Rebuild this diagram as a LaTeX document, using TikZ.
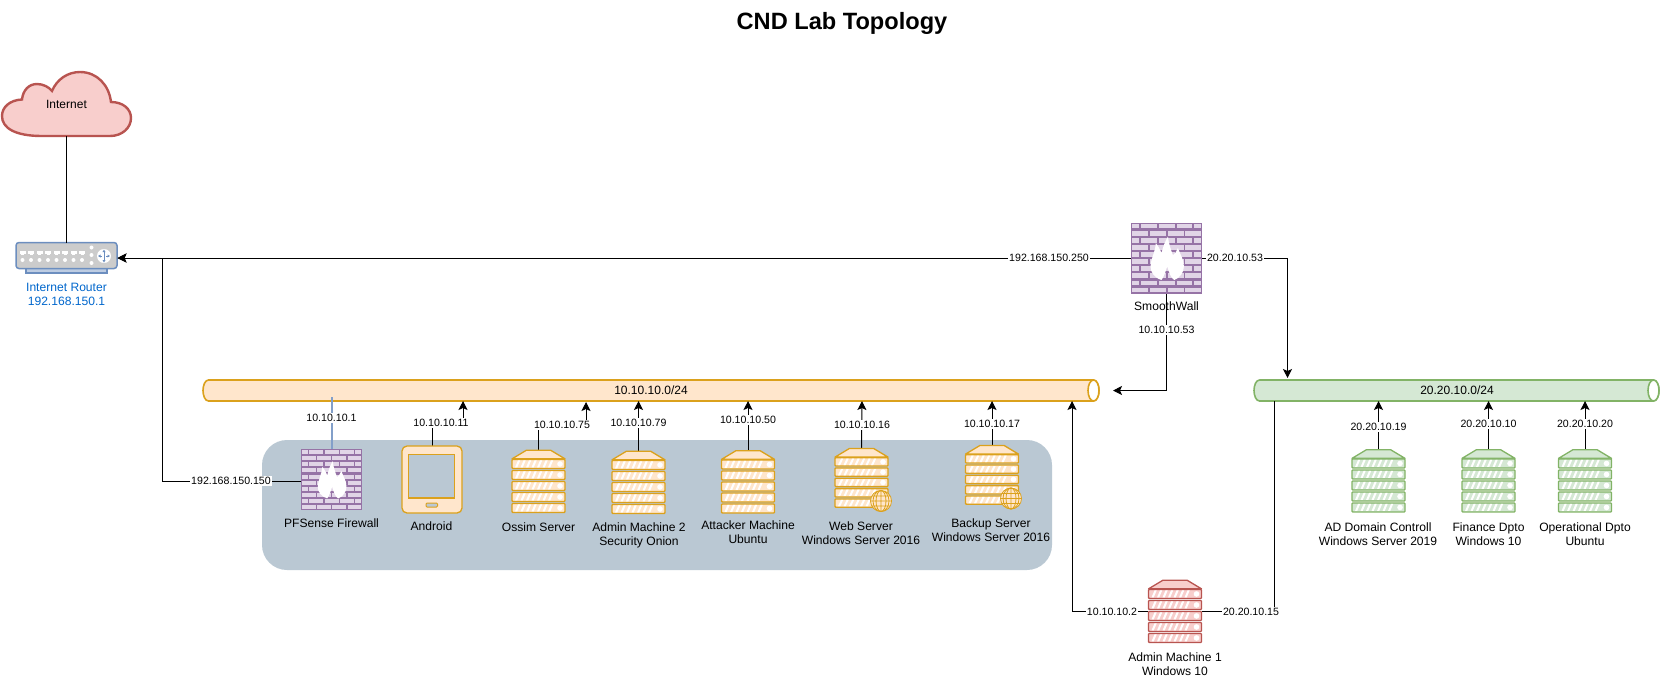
\documentclass[tikz,border=0pt]{standalone}
\usepackage{fontspec}
\setmainfont{Liberation Sans}
\usetikzlibrary{arrows.meta}
\definecolor{orS}{HTML}{DBA11C}\definecolor{orF}{HTML}{FFE6CC}
\definecolor{grS}{HTML}{82B366}\definecolor{grF}{HTML}{D5E8D4}
\definecolor{reS}{HTML}{B85450}\definecolor{reF}{HTML}{F8CECC}
\definecolor{puS}{HTML}{9673A6}\definecolor{puF}{HTML}{E1D5E7}
\definecolor{blS}{HTML}{6C8EBF}\definecolor{panel}{HTML}{BAC8D3}
\definecolor{rtxt}{HTML}{0066CC}
\tikzset{
 devbox/.style={inner sep=0pt,outer sep=0pt,minimum width=#1},
 devlabel/.style={font=\fontsize{12.1}{14.2}\selectfont,align=center,inner sep=0pt},
 edgelabel/.style={font=\fontsize{10.6}{12}\selectfont,fill=white,inner sep=1pt},
 link/.style={draw=black,line width=1pt},
 arrowlink/.style={link,-{Stealth[length=9pt,width=9pt,inset=2pt]}},
}
% colour stroke, colour fill, centre, pitch
\newcommand\drawserver[4]{%
 \begin{scope}[shift={(#3.center)},line width=1.3pt,draw=#1,fill=#2]
  \pgfmathsetmacro\topy{-(5*#4+8.7)/2}
  \pgfmathsetmacro\midy{\topy+8.7}
  \path[draw,fill,line join=round] (-26.5,\midy) -- (-12,\topy) -- (12,\topy) -- (26.5,\midy) -- cycle;
  \foreach \i in {0,...,4}{
   \pgfmathsetmacro\ya{\midy+\i*#4+0.6}
   \pgfmathsetmacro\yb{\ya+#4-2}
   \path[draw,fill,rounded corners=0.8pt] (-26.5,\ya) rectangle (26.5,\yb);
   \foreach \k in {0,...,6}{
     \path[fill=white,draw=none] ({-23.5+\k*5.5},{\yb-1}) -- ({-21.3+\k*5.5},{\yb-1}) -- ({-18.3+\k*5.5},{\ya+1}) -- ({-20.5+\k*5.5},{\ya+1}) -- cycle;
   }
   \path[fill=white,draw=none] (21.5,{(\ya+\yb)/2}) circle (2.8);
  }
 \end{scope}}
% globe: stroke, fill, centre
\newcommand\drawglobe[3]{%
 \begin{scope}[shift={(#3)},line width=0.8pt,draw=#1]
  \path[draw,fill=#2] (0,0) circle (10.5);
  \path[draw] (0,0) ellipse (5 and 10.5) (0,-10.5) -- (0,10.5) (-10.5,0) -- (10.5,0)
   (-9.2,-5) -- (9.2,-5) (-9.2,5) -- (9.2,5);
  \path[draw] (0,0) ellipse (8 and 10.5);
 \end{scope}}
% centre, size
\newcommand\drawfirewall[2]{%
 \begin{scope}[shift={(#1.center)},scale=#2]
  \fill[puS] (-.5,-.5) rectangle (.5,.5);
  \foreach \r in {0,2,4,6,8}{
   \pgfmathsetmacro\ya{-.5+\r*.1+.018}\pgfmathsetmacro\yb{\ya+.066}
   \foreach \xa/\xb in {-.49/-.39,-.365/-.135,-.11/.12,.145/.365,.39/.49}{
    \fill[puF] (\xa,\ya) rectangle (\xb,\yb);}
   \pgfmathsetmacro\yc{\ya+.1}\pgfmathsetmacro\yd{\yc+.066}
   \foreach \xa/\xb in {-.485/-.26,-.235/-.01,.015/.24,.265/.49}{
    \fill[puF] (\xa,\yc) rectangle (\xb,\yd);}
  }
  \fill[white] (-.07,.31)
   .. controls (-.17,.28) and (-.225,.20) .. (-.225,.12)
   .. controls (-.225,.02) and (-.16,-.08) .. (-.15,-.21)
   .. controls (-.12,-.17) and (-.09,-.12) .. (-.07,-.07)
   .. controls (-.05,-.15) and (-.02,-.24) .. (.02,-.30)
   .. controls (.03,-.21) and (.06,-.12) .. (.09,-.04)
   .. controls (.12,-.06) and (.15,-.10) .. (.16,-.14)
   .. controls (.2,-.04) and (.245,.03) .. (.245,.12)
   .. controls (.245,.2) and (.19,.28) .. (.11,.31)
   .. controls (.07,.29) and (.04,.22) .. (.01,.12)
   .. controls (-.01,.18) and (-.03,.25) .. (-.07,.31) -- cycle;
 \end{scope}}
% x0, x1, yc, stroke, fill
\newcommand\drawpipe[5]{%
 \path[draw=#4,fill=#5,line width=1.6pt] ({#1+5.5},{#3-10.5}) -- ({#2-5.5},{#3-10.5})
   .. controls ({#2-2},{#3-10.5}) and ({#2},{#3-5}) .. ({#2},{#3})
   .. controls ({#2},{#3+5}) and ({#2-2},{#3+10.5}) .. ({#2-5.5},{#3+10.5})
   -- ({#1+5.5},{#3+10.5})
   .. controls ({#1+2},{#3+10.5}) and ({#1},{#3+5}) .. ({#1},{#3})
   .. controls ({#1},{#3-5}) and ({#1+2},{#3-10.5}) .. ({#1+5.5},{#3-10.5}) -- cycle;
 \path[draw=#4,line width=1.6pt,fill=white] ({#2-5.5},{#3}) ellipse (5.5 and 10.5);
}
\begin{document}
\begin{tikzpicture}[x=1pt,y=-1pt]
\useasboundingbox (0,0) rectangle (1662,678);
\node[font=\bfseries\fontsize{23.6}{26}\selectfont,inner sep=0pt] (title) at (842,23) {CND Lab Topology};
% panel
\path[fill=panel,rounded corners=25pt] (262,440) rectangle (1052,570);
% pipes
\drawpipe{203}{1099}{390.5}{orS}{orF}
\drawpipe{1254}{1659}{390.5}{grS}{grF}
\node[inner sep=0pt,minimum width=896pt,minimum height=21pt,font=\fontsize{12}{14}\selectfont] (opipe) at (651,390.5) {10.10.10.0/24};
\node[inner sep=0pt,minimum width=405pt,minimum height=21pt,font=\fontsize{12}{14}\selectfont] (gpipe) at (1457,390.5) {20.20.10.0/24};
% cloud
\path[draw=reS,fill=reF,line width=2.4pt] (42,136)
 .. controls (15,136) and (2,128) .. (2,116)
 .. controls (2,107) and (10,100) .. (22,99.5)
 .. controls (23,90) and (29,84) .. (37,84)
 .. controls (43,84) and (49,87) .. (52,91)
 .. controls (57,79) and (68,72) .. (80,72)
 .. controls (97,72) and (109,85) .. (111,102)
 .. controls (123,102) and (131,109) .. (131,118)
 .. controls (131,128) and (122,136) .. (110,136) -- cycle;
\node[font=\fontsize{12}{14}\selectfont,inner sep=0pt] (internet) at (66.5,104) {Internet};
\coordinate (cloudbot) at (66.5,136);
% router
\path[draw=blS,fill=blS!45!white,line width=1.3pt] (26,268) rectangle (107,273);
\node[draw=blS,fill=black!20,line width=1.5pt,rounded corners=3pt,minimum width=101pt,minimum height=26pt,inner sep=0pt,outer sep=0pt] (router) at (66.5,255.5) {};
\path[fill=white] (104,256) circle (7);
\foreach \i in {0,...,7}{
  \fill[white] ({19.5+\i*8.5},251) rectangle +(6,2.5);
  \fill[white] ({21+\i*8.5},253) rectangle +(3,1.5);
  \fill[white] ({31+\i*8.5-8.5},260) circle (2);
}
\foreach \y in {247.5,255,263} \fill[white] (91.5,\y) circle (2);
\draw[blS,line width=.7pt] (104,251)--(104,261) (99.5,256)--(102,256) (106,256)--(108.5,256);
\fill[blS] (104,249.5)--(102.5,252)--(105.5,252)--cycle (104,262.5)--(102.5,260)--(105.5,260)--cycle
 (98,256)--(100.5,254.5)--(100.5,257.5)--cycle (110,256)--(107.5,254.5)--(107.5,257.5)--cycle;
\coordinate (routerin) at (117.5,258);
\node[devlabel,text=rtxt] (routerlbl) at (66.5,294) {Internet Router\\192.168.150.1};
% devices
\node[devbox=71pt,minimum height=72pt] (smooth) at (1166.5,258) {};
\node[devbox=61pt,minimum height=61pt] (pfsense) at (331.5,479.5) {};
\node[devbox=60pt,minimum height=67pt] (android) at (432,479.5) {};
\node[devbox=54pt,minimum height=64pt] (ossim) at (538.5,482) {};
\node[devbox=54pt,minimum height=64pt] (admintwo) at (638.5,483) {};
\node[devbox=54pt,minimum height=64pt] (attacker) at (748,482.5) {};
\node[devbox=54pt,minimum height=60pt] (web) at (861.5,478.5) {};
\node[devbox=54pt,minimum height=60pt] (backup) at (992,475.5) {};
\node[devbox=54pt,minimum height=64pt] (adminone) at (1175,612) {};
\node[devbox=54pt,minimum height=64pt] (adsrv) at (1378.5,481.5) {};
\node[devbox=54pt,minimum height=64pt] (finance) at (1488.5,481.5) {};
\node[devbox=54pt,minimum height=64pt] (oper) at (1585,481.5) {};
% taps
\coordinate (lsmoothW) at (1049,258);
\coordinate (lsmoothE) at (1235,258);
\coordinate (lsmoothS) at (1166.5,330);
\coordinate (lpf) at (231,481);
\coordinate (lpfn) at (331.5,418);
\coordinate (landroid) at (441,423);
\coordinate (lossim) at (562,425);
\coordinate (ladm2) at (638.5,423);
\coordinate (latt) at (748,420);
\coordinate (lweb) at (862,425);
\coordinate (lback) at (992,424);
\coordinate (lad) at (1378.5,427);
\coordinate (lfin) at (1488.5,424);
\coordinate (lope) at (1585,424);
\coordinate (lam1w) at (1112,612);
\coordinate (lam1e) at (1251,612);
% connectors
\draw[link] (cloudbot) -- (router.north);
\draw[arrowlink] (smooth.west) -- (routerin);
\draw[arrowlink] (pfsense.west |- 0,481) -- (162,481) |- (routerin);
\draw[arrowlink] (smooth.east) -- (1287.5,258) -- (1287.5,378);
\draw[arrowlink] (smooth.south) -- (1166.5,390.5) -- (1113,390.5);
\draw[line width=2pt,blS!85!white] (pfsense.north) -- (331.5,397);
\draw[arrowlink] (android.north) |- (landroid) -| (463,401);
\draw[arrowlink] (ossim.north) |- (lossim) -| (586,402);
\draw[arrowlink] (admintwo.north) -- (638.5,401);
\draw[arrowlink] (attacker.north) -- (748,401);
\draw[arrowlink] (web.north) -- (862,401);
\draw[arrowlink] (backup.north) -- (992,401);
\draw[arrowlink] (adsrv.north) -- (1378.5,401);
\draw[arrowlink] (finance.north) -- (1488.5,401);
\draw[arrowlink] (oper.north) -- (1585,401);
\draw[arrowlink] (adminone.west |- 0,611) -- (1072,611) -- (1072,401);
\draw[link] (adminone.east |- 0,611) -- (1274,611) -- (1274,401);
% device drawings
\drawfirewall{smooth}{71}
\drawfirewall{pfsense}{61}
\path[draw=orS,fill=orF,line width=1.3pt,rounded corners=5pt] (402,446) rectangle (462,513);
\path[draw=orS,fill=panel,line width=1.3pt] (408.5,454.5) rectangle (454.5,498);
\path[draw=orS,fill=panel,line width=1pt,rounded corners=1pt] (426,503) rectangle (437.5,507);
\drawserver{orS}{orF}{ossim}{11}
\drawserver{orS}{orF}{admintwo}{11}
\drawserver{orS}{orF}{attacker}{11}
\drawserver{orS}{orF}{web}{10.3}
\drawserver{orS}{orF}{backup}{10.3}
\drawglobe{orS}{orF}{881,501}
\drawglobe{orS}{orF}{1011,498.5}
\drawserver{reS}{reF}{adminone}{11}
\drawserver{grS}{grF}{adsrv}{11}
\drawserver{grS}{grF}{finance}{11}
\drawserver{grS}{grF}{oper}{11}
% edge labels
\node[edgelabel] (t1) at (lsmoothW) {192.168.150.250};
\node[edgelabel] (t2) at (lsmoothE) {20.20.10.53};
\node[edgelabel] (t3) at (lsmoothS) {10.10.10.53};
\node[edgelabel] (t4) at (lpf) {192.168.150.150};
\node[edgelabel] (t5) at (lpfn) {10.10.10.1};
\node[edgelabel] (t6) at (landroid) {10.10.10.11};
\node[edgelabel] (t7) at (lossim) {10.10.10.75};
\node[edgelabel] (t8) at (ladm2) {10.10.10.79};
\node[edgelabel] (t9) at (latt) {10.10.10.50};
\node[edgelabel] (t10) at (lweb) {10.10.10.16};
\node[edgelabel] (t11) at (lback) {10.10.10.17};
\node[edgelabel] (t12) at (lad) {20.20.10.19};
\node[edgelabel] (t13) at (lfin) {20.20.10.10};
\node[edgelabel] (t14) at (lope) {20.20.10.20};
\node[edgelabel] (t15) at (lam1w) {10.10.10.2};
\node[edgelabel] (t16) at (lam1e) {20.20.10.15};
% device labels
\node[devlabel] (d1) at (1166.5,306) {SmoothWall};
\node[devlabel] (d2) at (331.5,523) {PFSense Firewall};
\node[devlabel] (d3) at (431.5,526) {Android};
\node[devlabel] (d4) at (538.5,527) {Ossim Server};
\node[devlabel] (d5) at (639,535) {Admin Machine 2\\Security Onion};
\node[devlabel] (d6) at (748,532.5) {Attacker Machine\\Ubuntu};
\node[devlabel] (d7) at (861,533) {Web Server\\Windows Server 2016};
\node[devlabel] (d8) at (991,530) {Backup Server\\Windows Server 2016};
\node[devlabel] (d9) at (1175,664) {Admin Machine 1\\Windows 10};
\node[devlabel] (d10) at (1378,534) {AD Domain Controll\\Windows Server 2019};
\node[devlabel] (d11) at (1488.5,534) {Finance Dpto\\Windows 10};
\node[devlabel] (d12) at (1585,534) {Operational Dpto\\Ubuntu};
\end{tikzpicture}
\end{document}
